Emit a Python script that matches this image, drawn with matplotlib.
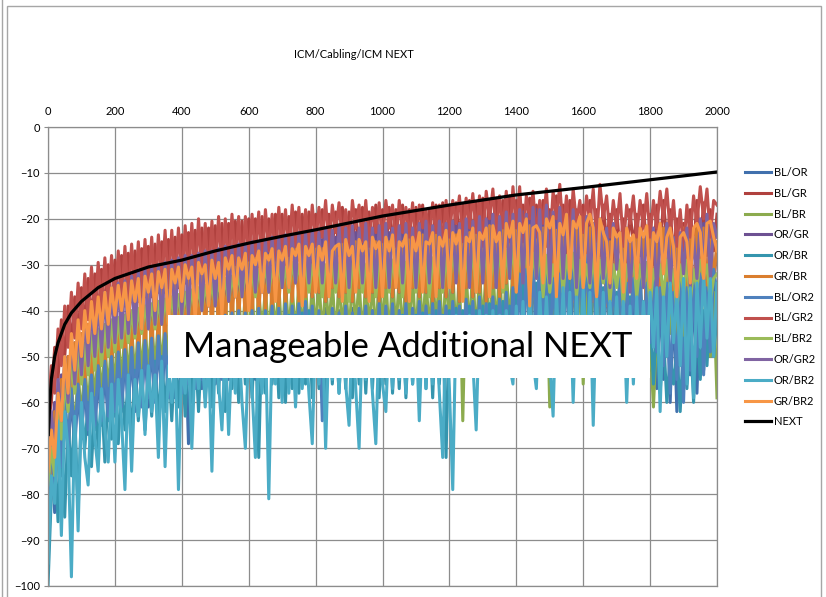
import numpy as np
import matplotlib.pyplot as plt
from matplotlib.patches import Rectangle
from matplotlib.lines import Line2D

plt.rcParams["font.family"] = ["Lato", "DejaVu Sans"]

# Sweep step of the measured pair traces (MHz)
STEP_MHZ = 10

# Pair-to-pair NEXT traces (dB), one value every 10 MHz from 0 to 2000 MHz
BL_OR = [
    -92, -70, -84, -62, -76, -59, -72, -58, -70, -57, -68, -56, -67, -55, -66, -54, -65, -53, -64, -52,
    -63, -51, -62, -50, -61, -49.5, -62, -49, -60, -48, -61, -47.5, -59, -47, -60, -46.5, -58, -46, -59, -45.5,
    -57, -45, -69, -44.5, -56, -44, -57, -43.5, -55, -43, -56, -42.5, -54, -42, -55, -41.5, -53, -41, -54, -41,
    -53, -40.5, -55, -40, -52, -40.5, -54, -39.5, -52, -40, -53, -39, -51, -39.5, -53, -39, -51, -38.5, -53, -38,
    -52, -40.5, -50, -39.5, -53, -41, -51, -40, -52, -40.5, -50, -39.5, -53, -41, -51, -39, -52, -40, -50, -39.5,
    -53, -39.5, -51, -38.5, -52, -40, -50, -38, -53, -39.5, -51, -38, -52, -38.5, -50, -39.5, -53, -37.5, -51, -39,
    -50, -38, -52, -39, -51, -37.5, -53, -38, -50, -37, -52, -38.5, -51, -37, -53, -38, -50, -36.5, -52, -36,
    -47, -33, -45, -30, -48, -31, -46, -29, -49, -32, -47, -30.5, -50, -33, -46, -30, -49, -31.5, -47, -30,
    -45, -29, -47, -31, -49, -33, -46, -32, -50, -34, -48, -33, -51, -35, -47, -34, -52, -33, -49, -36,
    -53, -35, -57, -37, -55, -36, -60, -38, -62, -36, -57, -37, -54, -35, -58, -36, -53, -34, -50, -33, -38,
]
BL_GR = [
    -65, -60, -48, -55, -42, -50, -39, -47, -37, -45, -35, -43, -33, -42, -32, -41, -31, -40, -30, -40,
    -29, -39, -28, -39, -27.5, -38, -27, -38, -26.5, -37, -26, -37, -25.5, -36, -25, -36, -24.5, -35, -24, -35,
    -23.5, -34, -23, -34, -22.5, -33, -22, -33, -22, -32, -21.5, -33, -21, -32, -21, -31, -20.5, -32, -20.5, -31,
    -20, -30, -20, -31, -19.5, -29, -20, -30, -19, -29, -19, -30, -19.5, -28, -18.5, -29, -19, -28, -18.5, -29,
    -19, -27, -18, -28, -19, -26, -18.5, -28, -17.5, -27, -18.5, -26, -18, -28, -17.5, -26, -18.5, -27, -17, -26,
    -18, -27, -17.5, -25, -18, -28, -17, -26, -18, -27, -17.5, -25, -17, -28, -18, -26, -17, -27, -16.5, -25,
    -17, -26, -16.5, -24, -17, -27, -16, -25, -16.5, -26, -15.5, -24, -16, -27, -15.5, -25, -16, -26, -15, -24,
    -16, -27, -17, -25, -15.5, -28, -17, -24, -16, -26, -18, -27, -15, -25, -17, -28, -16, -24, -18, -26,
    -17, -29, -16, -26, -18, -28, -17, -25, -19, -29, -18, -27, -20, -30, -18, -26, -19, -28, -17, -27,
    -19, -30, -17, -27, -16, -25, -18, -28, -20, -31, -21, -29, -18, -27, -16, -26, -16.5, -28, -18, -27, -19,
]
BL_BR = [
    -85, -72, -80, -66, -74, -60, -70, -56, -66, -53, -64, -51, -62, -49, -60, -48, -59, -47, -58, -46,
    -57, -45, -56, -44, -55, -43.5, -55, -43, -54, -42.5, -54, -42, -53, -41.5, -53, -41, -52, -40.5, -52, -40,
    -51, -40, -51, -39.5, -50, -39, -50, -38.5, -49, -38, -49, -37.5, -48, -37, -48, -37, -47, -36.5, -47, -36,
    -46, -36, -47, -35.5, -45, -35, -46, -35, -45, -34.5, -47, -34, -45, -34.5, -46, -33.5, -45, -34, -47, -33.5,
    -45, -33, -46, -34, -44, -33, -47, -32.5, -45, -33.5, -46, -32.5, -44, -33, -47, -32, -45, -33, -46, -32,
    -44, -32.5, -47, -31.5, -45, -32.5, -46, -31.5, -44, -32, -47, -31, -45, -32, -46, -31, -44, -31.5, -47, -30.5,
    -45, -31, -46, -30.5, -64, -31.5, -45, -30, -47, -31, -44, -30, -46, -30.5, -45, -29.5, -47, -30.5, -44, -29.5,
    -46, -30, -45, -29, -47, -30, -44, -29.5, -46, -31, -61, -32, -45, -30, -47, -31, -44, -30.5, -46, -32,
    -56, -33, -45, -31, -47, -32, -44, -31.5, -48, -33, -45, -32, -47, -33, -44, -31.5, -46, -33, -48, -32.5,
    -46, -61, -44, -33, -47, -32, -45, -34, -49, -33, -46, -35, -48, -34, -45, -32, -47, -33, -50, -36, -59,
]
OR_GR = [
    -80, -68, -60, -66, -54, -62, -50, -58, -47, -56, -45, -54, -43, -52, -41, -51, -40, -50, -38.5, -49,
    -37.5, -48, -36.5, -48, -35.5, -47, -35, -47, -34, -46, -33.5, -46, -33, -45, -32.5, -45, -32, -44, -31.5, -44,
    -31, -43, -30.5, -43, -30, -42, -29.5, -42, -29, -41, -28.5, -41, -28, -40, -28, -40, -27.5, -39, -27, -39,
    -27, -38, -26.5, -39, -26, -37, -26, -38, -25.5, -37, -25, -38, -25, -36, -24.5, -37, -24.5, -36, -24, -37,
    -24, -36, -24.5, -38, -23.5, -35, -24, -37, -23, -36, -23.5, -38, -23, -35, -24, -37, -22.5, -36, -23, -38,
    -22.5, -35, -23, -37, -22, -36, -23, -38, -22, -35, -22.5, -37, -21.5, -36, -22, -38, -21.5, -35, -22, -37,
    -21, -36, -21.5, -38, -20.5, -35, -21, -37, -20, -36, -20.5, -38, -19.5, -35, -20, -37, -19, -34, -19.5, -36,
    -19, -35, -18.5, -37, -20, -34, -18, -36, -19, -38, -18.5, -35, -20, -37, -19, -34, -21, -38, -20, -36,
    -21, -35, -22, -38, -21, -36, -23, -39, -22, -35, -24, -37, -23, -40, -25, -36, -23, -38, -24, -41,
    -23, -37, -25, -39, -22, -36, -24, -40, -26, -38, -24, -36, -25, -39, -22, -35, -21, -37, -23, -34, -26,
]
OR_BR = [
    -100, -80, -70, -86, -66, -85, -64, -76, -62, -84, -61, -70, -60, -74, -59, -70, -58, -73, -57, -68,
    -56, -69, -55, -66, -54, -68, -53, -64, -53, -66, -52, -63, -51, -65, -50, -62, -50, -64, -49, -61,
    -48, -63, -48, -60, -47, -62, -47, -59, -46, -61, -46, -58, -45, -62, -45, -57, -44, -60, -44, -56,
    -44, -59, -43, -72, -43, -58, -42, -56, -42, -59, -42, -60, -41, -57, -41, -58, -40.5, -56, -40, -59,
    -43, -57, -44, -60, -43, -56, -42.5, -58, -43, -57, -42, -59, -43, -56, -42, -58, -43, -57, -41.5, -59,
    -42, -56, -41.5, -58, -42, -57, -41, -59, -42, -56, -41, -58, -40.5, -57, -41, -59, -40, -56, -41, -72,
    -40, -52, -39.5, -51, -40, -53, -39, -50, -40, -52, -39, -51, -38.5, -53, -39, -50, -38, -52, -39, -51,
    -35, -50, -34, -52, -35, -49, -34, -51, -33, -50, -34, -52, -33, -49, -34, -51, -33, -50, -35, -52,
    -34, -50, -35, -52, -36, -49, -35, -51, -37, -50, -36, -52, -38, -49, -37, -51, -39, -50, -38, -53,
    -40, -56, -42, -58, -45, -60, -50, -56, -48, -62, -46, -57, -44, -60, -42, -55, -40, -52, -38, -50, -41,
]
GR_BR = [
    -70, -78, -62, -70, -55, -65, -50, -60, -47, -58, -45, -56, -43, -55, -41, -54, -40, -53, -39, -52,
    -38, -51, -37.5, -51, -37, -50, -36, -50, -35.5, -49, -35, -49, -34.5, -48, -34, -48, -33.5, -47, -33, -47,
    -32.5, -46, -32, -46, -31.5, -45, -31, -45, -31, -44, -30.5, -44, -30, -43, -30, -43, -29.5, -42, -29, -42,
    -29, -41, -28.5, -41, -28, -40, -28, -40, -27.5, -39, -27, -39, -27, -38, -26.5, -38, -26.5, -37, -26, -37,
    -26, -36, -26.5, -38, -25.5, -35, -26, -37, -25, -36, -25.5, -38, -25, -35, -26, -37, -24.5, -36, -25, -38,
    -24.5, -35, -25, -37, -24, -36, -25, -38, -24, -35, -24.5, -37, -23.5, -36, -24, -38, -23.5, -35, -24, -37,
    -23, -36, -23.5, -38, -22.5, -35, -23, -37, -22, -36, -22.5, -38, -21.5, -35, -22, -37, -21, -34, -21.5, -36,
    -21, -35, -22, -37, -21.5, -34, -20.5, -36, -22, -38, -21, -35, -22.5, -37, -21, -34, -23, -38, -22, -36,
    -23, -35, -22, -38, -24, -36, -23, -39, -25, -35, -24, -37, -23, -40, -25, -36, -22.5, -38, -24, -41,
    -23, -37, -25, -39, -22, -36, -23.5, -40, -24, -38, -22, -36, -24, -39, -21, -35, -22, -37, -21.5, -34, -25,
]
BL_OR2 = [
    -88, -66, -80, -60, -74, -58, -70, -57, -68, -56, -67, -55, -66, -54, -65, -52, -64, -51, -63, -50,
    -62, -49, -61, -48.5, -62, -48, -60, -47, -61, -46.5, -59, -46, -60, -45.5, -58, -45, -59, -44.5, -57, -44,
    -58, -43.5, -56, -43, -57, -42.5, -55, -42, -56, -42, -54, -41.5, -55, -41, -53, -40.5, -54, -40, -53, -40.5,
    -54, -40, -52, -39.5, -53, -40, -52, -39, -54, -39.5, -52, -38.5, -53, -39, -51, -38.5, -53, -38, -52, -39,
    -51, -40, -64, -41, -52, -39.5, -50, -40.5, -53, -39, -51, -40.5, -52, -39.5, -50, -39, -53, -40, -51, -38.5,
    -52, -39, -50, -38.5, -53, -40, -51, -38.5, -52, -39.5, -50, -38, -53, -39, -51, -38.5, -52, -38, -50, -39,
    -52, -38, -50, -39, -53, -37.5, -51, -38, -52, -37, -50, -38.5, -53, -37, -50, -37.5, -52, -36, -51, -35,
    -50, -32, -48, -31, -46, -30, -44, -28.5, -45, -31, -48, -33, -46, -32, -49, -31, -47, -30, -45, -29.5,
    -44, -28, -43, -30, -46, -32, -48, -31, -45, -33, -47, -32, -49, -34, -46, -33, -48, -32, -50, -34,
    -47, -33, -49, -35, -52, -34, -58, -36, -55, -33, -60, -35, -53, -34, -50, -32, -54, -35, -49, -31, -36,
]
BL_GR2 = [
    -62, -52, -58, -44, -52, -39, -48, -36, -46, -34, -44, -32, -42, -30.5, -41, -29.5, -40, -28.5, -39, -28,
    -39, -27, -38, -26, -38, -25.5, -37, -25, -37, -24.5, -36, -24, -36, -23.5, -35, -22.5, -35, -22.5, -34, -22,
    -34, -21.5, -33, -21, -33, -20, -32, -21, -33, -20.5, -31, -19.5, -32, -20, -31, -19, -30, -19.5, -31, -19.5,
    -29, -19, -28, -18.5, -30, -18, -27, -19, -29, -17.5, -27, -18, -28, -17, -26, -17.5, -29, -18, -27, -17,
    -26, -17.5, -24, -16, -27, -17, -23, -16.5, -25, -18, -27, -16, -22, -17, -25, -16, -26, -17.5, -23, -16.5,
    -25, -16, -22, -17, -26, -16, -23, -17.5, -24, -16.5, -27, -17, -22, -18, -25, -16.5, -23, -17, -26, -16,
    -24, -16, -21, -15, -25, -15.5, -22, -14.5, -23, -15, -26, -14, -20, -13.5, -24, -15, -22, -14, -25, -13,
    -22, -13, -25, -15, -20, -14, -24, -16, -21, -13.5, -26, -14, -20, -12.5, -23, -15, -25, -13.5, -21, -16,
    -23, -15, -21, -13.5, -25, -12.5, -20, -15, -24, -16, -22, -14.5, -26, -17, -21, -15, -24, -16, -22, -14.5,
    -24, -16, -22, -14, -20, -13.5, -23, -16, -26, -18, -27, -17, -24, -15, -21, -13, -20, -13.5, -24, -16, -17,
]
BL_BR2 = [
    -78, -70, -76, -62, -68, -55, -62, -51, -58, -48, -56, -47, -54, -45, -53, -44, -52, -43, -50, -42,
    -49, -41.5, -48, -41, -47, -40, -46, -39.5, -45, -39, -44, -38.5, -44, -38, -43, -37.5, -43, -37, -42, -36.5,
    -42, -36, -41, -35.5, -40, -35, -40, -34.5, -39, -34, -39, -33.5, -38, -33, -38, -32.5, -37, -32, -37, -31.5,
    -36, -31.5, -37, -31, -35, -30.5, -36, -31, -34, -30, -35, -30.5, -36, -29.5, -34, -30, -35, -29.5, -36, -30,
    -34, -29.5, -37, -30, -33, -29, -36, -30, -35, -29, -38, -29.5, -33, -28.5, -36, -30, -34, -28.5, -37, -29,
    -33, -28.5, -36, -29, -34, -28, -37, -29.5, -33, -28, -36, -29, -34, -27.5, -37, -28.5, -33, -27.5, -36, -28,
    -35, -27, -33, -28, -37, -27, -34, -26.5, -36, -27.5, -33, -26.5, -37, -27, -34, -26, -36, -27, -33, -26,
    -35, -27, -32, -26, -36, -27.5, -33, -26.5, -37, -28, -36, -30, -34, -27, -36, -28, -33, -27.5, -37, -29,
    -35, -30, -35, -28, -37, -29, -34, -28.5, -38, -30, -35, -29, -39, -30, -34, -28.5, -37, -30, -35, -29.5,
    -39, -31, -34, -30, -37, -29, -35, -31, -40, -30, -36, -29, -38, -31, -35, -29, -33, -30, -38, -33, -32,
]
OR_GR2 = [
    -72, -62, -70, -55, -64, -50, -60, -46, -56, -43, -54, -41, -52, -39, -50, -38, -49, -36, -48, -35,
    -47, -34, -46, -33.5, -45, -32.5, -45, -31.5, -44, -31, -44, -30.5, -43, -30, -43, -29.5, -42, -29, -42, -28.5,
    -41, -28, -41, -28, -40, -27.5, -40, -27, -39, -27, -39, -26.5, -38, -26, -38, -26, -37, -25.5, -37, -25.5,
    -37, -25, -36, -25, -36, -24.5, -36, -24, -35, -24, -35, -23.5, -35, -23.5, -34, -23, -34, -23, -34, -22.5,
    -33, -23, -34, -22, -32, -22.5, -34, -21.5, -33, -22, -35, -21.5, -32, -22, -34, -21, -33, -22, -35, -21.5,
    -33, -21, -35, -22, -32, -21.5, -34, -21, -33, -22, -35, -21, -32, -20.5, -34, -21.5, -33, -20.5, -35, -21,
    -32, -20.5, -34, -21, -33, -20, -35, -20.5, -32, -19.5, -34, -20, -33, -19, -35, -19.5, -31, -18.5, -33, -19,
    -32, -18, -34, -19, -30, -17.5, -33, -18, -31, -17, -34, -18.5, -30, -17.5, -33, -19, -31, -18, -35, -20,
    -32, -19.5, -34, -21, -30, -20, -33, -22, -35, -21, -31, -23, -34, -22, -36, -24, -32, -22.5, -35, -23,
    -33, -22, -36, -23.5, -31, -21, -34, -24, -37, -23, -32, -22, -35, -24, -33, -20, -30, -19, -33, -21, -24,
]
OR_BR2 = [
    -95, -76, -82, -64, -89, -62, -70, -98, -63, -88, -60, -72, -78, -58, -68, -75, -57, -66, -73, -56,
    -73, -55, -64, -79, -54, -75, -55, -63, -53, -67, -52, -62, -54, -72, -51, -74, -52, -60, -50, -79,
    -51, -58, -49, -70, -50, -57, -48, -61, -49, -75, -48, -56, -66, -47, -67, -48, -58, -46, -60, -70,
    -47, -57, -72, -46, -58, -45, -81, -46, -56, -45, -60, -44, -58, -45, -61, -44, -57, -45, -58, -69,
    -44, -56, -43, -70, -45, -55, -43, -58, -44, -56, -65, -43, -57, -70, -44, -55, -43, -58, -69, -44,
    -56, -62, -43, -57, -42, -55, -44, -58, -42, -56, -43, -64, -42, -57, -41, -56, -43, -58, -72, -42,
    -57, -79, -41, -52, -42, -53, -41, -51, -66, -40, -53, -41, -52, -40, -53, -41, -51, -40, -52, -56,
    -39, -52, -38, -53, -37, -51, -57, -36, -52, -37, -51, -63, -36, -52, -35, -53, -36, -60, -37, -52,
    -35, -51, -36, -65, -37, -52, -36, -53, -38, -51, -37, -52, -38, -60, -39, -56, -37, -52, -38, -50,
    -36, -48, -35, -62, -37, -50, -34, -47, -36, -52, -33, -56, -35, -59, -34, -48, -32, -46, -33, -50, -34,
]
GR_BR2 = [
    -75, -66, -72, -58, -64, -50, -58, -45, -53, -42, -50, -40, -47, -38, -45, -37, -44, -36, -43, -35,
    -41, -34.5, -40, -34, -42, -33.5, -38, -33, -44, -32.5, -36, -32, -40, -31.5, -35, -31, -43, -31, -34, -30.5,
    -38, -30, -33, -30.5, -42, -29.5, -32, -30, -39, -29, -33, -29.5, -41, -28.5, -31, -28, -37, -28.5, -31, -27.5,
    -40, -28, -30, -27, -36, -27.5, -29, -26.5, -38, -27, -29, -26, -35, -26.5, -28, -25.5, -39, -26, -28, -25.5,
    -36, -26, -29, -25, -37, -27, -26, -25.5, -38, -24.5, -28, -26, -36, -24.5, -27, -25, -38, -24, -26.5, -25,
    -37, -24, -27, -23.5, -35, -25, -26, -23.5, -38, -24, -27, -23, -36, -25, -25.5, -23, -37, -24, -26, -22.5,
    -35, -23, -25.5, -22.5, -38, -24, -25, -22, -36, -23, -24.5, -22, -37, -21.5, -25, -23, -35, -21, -24, -20.5,
    -36, -21, -23, -20, -39, -22, -21.5, -23, -34, -20, -22, -19.5, -37, -21, -23.5, -19, -33, -20.5, -22, -19.5,
    -35, -21, -19, -22, -37, -20, -23, -25, -34, -22, -24, -23, -36, -22, -25, -23.5, -33, -22, -24, -21.5,
    -35, -23, -25, -21, -32, -24, -22, -26, -37, -24, -23, -25, -34, -22, -21, -23, -33, -21, -20.5, -24, -27,
]

# NEXT limit line
NEXT_MHZ = [1, 3, 5, 10, 20, 30, 50, 70, 100, 150, 200, 300, 400, 500, 600, 700, 800, 900, 1000,
            1200, 1400, 1600, 1800, 2000]
NEXT_DB = [-67, -64, -60, -55, -50, -47, -43, -40.5, -38, -35, -33, -30.5, -29, -27, -25.3, -23.8,
           -22.4, -20.9, -19.4, -17, -14.8, -13.2, -11.5, -9.8]

SERIES = [
    ("BL/OR", BL_OR), ("BL/GR", BL_GR), ("BL/BR", BL_BR), ("OR/GR", OR_GR),
    ("OR/BR", OR_BR), ("GR/BR", GR_BR), ("BL/OR2", BL_OR2), ("BL/GR2", BL_GR2),
    ("BL/BR2", BL_BR2), ("OR/GR2", OR_GR2), ("OR/BR2", OR_BR2), ("GR/BR2", GR_BR2),
]
COLORS = {
    "BL/OR": "#4170AD", "BL/GR": "#B0413E", "BL/BR": "#8CAB4E", "OR/GR": "#6D5192",
    "OR/BR": "#3595AE", "GR/BR": "#DA7E2E", "BL/OR2": "#4F81BD", "BL/GR2": "#C0504D",
    "BL/BR2": "#9BBB59", "OR/GR2": "#8064A2", "OR/BR2": "#4BACC6", "GR/BR2": "#F79646",
}

W, H = 826, 597
fig = plt.figure(figsize=(W / 100, H / 100), dpi=100)
ax = fig.add_axes([48 / W, 11 / H, 669 / W, 459 / H])

handles = []
for name, vals in SERIES:
    freq = np.arange(len(vals)) * STEP_MHZ
    (ln,) = ax.plot(freq, vals, color=COLORS[name], lw=2.2, label=name, solid_joinstyle="round")
    handles.append(ln)
(ln,) = ax.plot(NEXT_MHZ, NEXT_DB, color="black", lw=2.3, label="NEXT")
handles.append(ln)

# Axes formatting, Excel-like
ax.set_xlim(0, 2000)
ax.set_ylim(-100, 0)
ax.set_xticks(range(0, 2001, 200))
ax.set_yticks(range(-100, 1, 10))
ax.xaxis.tick_top()
ax.grid(color="#8C8C8C", lw=0.9)
ax.set_axisbelow(True)
for sp in ax.spines.values():
    sp.set_color("#8C8C8C")
    sp.set_linewidth(0.9)
ax.tick_params(axis="x", length=0, pad=7, labelsize=8)
ax.tick_params(axis="y", length=3, pad=3, labelsize=8, color="#8C8C8C")

fig.text(354 / W, 1 - 55 / H, "ICM/Cabling/ICM NEXT", ha="center", va="center", fontsize=8)

# Annotation box over the plot area
ax.add_patch(Rectangle((168 / W, 1 - 378 / H), 482 / W, 63 / H, transform=fig.transFigure,
                       facecolor="white", edgecolor="none", zorder=10, clip_on=False))
ax.text(408 / W, 1 - 347 / H, "Manageable Additional NEXT", transform=fig.transFigure,
        ha="center", va="center", fontsize=25, zorder=11)

fig.legend(handles, [h.get_label() for h in handles], loc="upper left",
           bbox_to_anchor=(745 / W, 1 - 167 / H), frameon=False, fontsize=8,
           handlelength=2.3, handletextpad=0.3, labelspacing=0.88,
           borderaxespad=0, borderpad=0)

# Chart area border from the screenshot
fig.add_artist(Rectangle((7 / W, -0.01), 814 / W, 1 - 6 / H + 0.01, transform=fig.transFigure,
                         fill=False, edgecolor="#A6A6A6", lw=1))
fig.add_artist(Line2D([1.5 / W, 1.5 / W], [0, 1], transform=fig.transFigure, color="#A6A6A6", lw=1))

fig.savefig("out.png", dpi=100)
